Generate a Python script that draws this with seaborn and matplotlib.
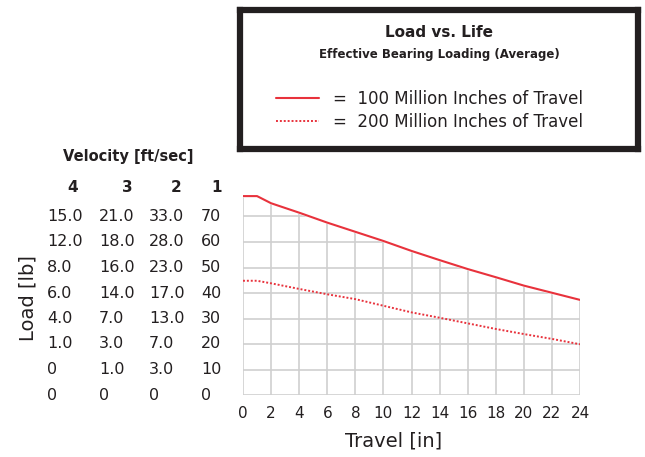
import matplotlib
matplotlib.use("Agg")
import matplotlib.pyplot as plt
import matplotlib.transforms as mtransforms
import pandas as pd
import seaborn as sns

# travel [in] and load [lb]
travel = [0, 1, 2, 4, 6, 8, 10, 12, 14, 16, 18, 20, 22, 24]
load_100m = [78.0, 78.0, 75.2, 71.5, 67.6, 64.0, 60.4, 56.5, 52.9, 49.4, 46.2, 42.9, 40.1, 37.3]
load_200m = [44.8, 44.8, 43.8, 41.6, 39.5, 37.6, 35.0, 32.4, 30.3, 28.1, 25.9, 23.9, 22.0, 19.9]

load_ticks = [70, 60, 50, 40, 30, 20, 10, 0]
# velocity columns [ft/sec] next to the load axis
vel_headers = ["4", "3", "2", "1"]
vel_4 = ["15.0", "12.0", "8.0", "6.0", "4.0", "1.0", "0", "0"]
vel_3 = ["21.0", "18.0", "16.0", "14.0", "7.0", "3.0", "1.0", "0"]
vel_2 = ["33.0", "28.0", "23.0", "17.0", "13.0", "7.0", "3.0", "0"]
vel_1 = ["70", "60", "50", "40", "30", "20", "10", "0"]

labels = ["=  100 Million Inches of Travel", "=  200 Million Inches of Travel"]

df = pd.DataFrame({"travel": travel, "l100": load_100m, "l200": load_200m})

sns.set_style("whitegrid")
plt.rcParams["font.family"] = ["DejaVu Sans"]
red = "#e8323c"
txt = "#231f20"

fig = plt.figure(figsize=(6.45, 4.57), dpi=100)
W, H = 645, 457
ax = fig.add_axes([243 / W, 62 / H, 337 / W, 204 / H])

sns.lineplot(data=df, x="travel", y="l100", ax=ax, color=red, lw=1.5, zorder=3)
sns.lineplot(data=df, x="travel", y="l200", ax=ax, color=red, lw=1.4,
             linestyle=(0, (1, 1)), zorder=3)
# grid only shows beneath the upper curve
ax.fill_between(df["travel"], df["l100"], 90, facecolor="white",
                edgecolor="white", lw=1.5, zorder=1, clip_on=False)

ax.set_xlim(0, 24)
ax.set_ylim(0, 80)
ax.set_xticks(range(0, 25, 2))
ax.set_yticks(load_ticks)
ax.set_yticklabels([])
ax.grid(True, color="#cfcfcf", lw=1.2)
for s in ax.spines.values():
    s.set_visible(False)
ax.tick_params(axis="both", length=3, width=1.2, color="#aaaaaa", labelsize=11,
               labelcolor=txt, pad=5)
ax.tick_params(axis="y", pad=0)
ax.set_xlabel("Travel [in]", fontsize=14, color=txt)
ax.xaxis.set_label_coords(0.448, -0.18)
ax.set_ylabel("")

# velocity table in place of y tick labels
trans = mtransforms.blended_transform_factory(fig.transFigure, ax.transData)
for col, xp in zip([vel_4, vel_3, vel_2, vel_1], [47, 99, 149, 201]):
    for lab, yv in zip(col, load_ticks):
        ax.text(xp / W, yv, lab, transform=trans, fontsize=11.5, color=txt,
                ha="left", va="center")
for h, xp in zip(vel_headers, [73, 127, 176, 217]):
    fig.text(xp / W, 1 - 188 / H, h, fontsize=11, fontweight="bold", color=txt,
             ha="center", va="center")
fig.text(128 / W, 1 - 157 / H, "Velocity [ft/sec]", fontsize=10.5, fontweight="bold",
         color=txt, ha="center", va="center")
fig.text(28 / W, 1 - 298 / H, "Load [lb]", fontsize=14, color=txt, rotation=90,
         ha="center", va="center")

# boxed title + legend
bx = fig.add_axes([240 / W, 1 - 149 / H, 398 / W, 139 / H])
bx.set_xticks([])
bx.set_yticks([])
for s in bx.spines.values():
    s.set_linewidth(4.5)
    s.set_color(txt)
bx.text(0.5, 0.84, "Load vs. Life", transform=bx.transAxes, fontsize=11,
        fontweight="bold", color=txt, ha="center", va="center")
bx.text(0.5, 0.68, "Effective Bearing Loading (Average)", transform=bx.transAxes,
        fontsize=8.5, fontweight="bold", color=txt, ha="center", va="center")
bx.legend(ax.get_lines()[:2], labels, loc="center left",
          bbox_to_anchor=(0.053, 0.28), frameon=False, fontsize=12,
          handlelength=2.6, handletextpad=0.8, labelspacing=0.3,
          labelcolor=txt)

fig.savefig("out.png", dpi=100)
